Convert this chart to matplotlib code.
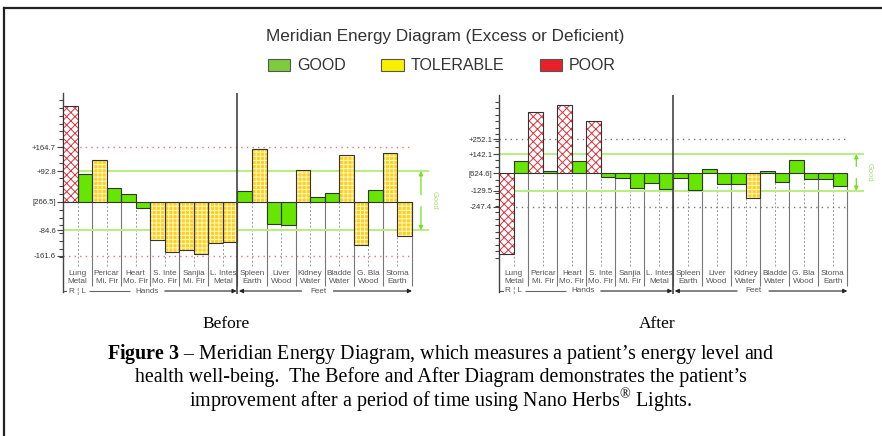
import numpy as np
import matplotlib.pyplot as plt
from matplotlib.patches import Patch
from matplotlib.lines import Line2D

plt.rcParams['font.family'] = ['Liberation Sans', 'DejaVu Sans']
plt.rcParams['hatch.linewidth'] = 0.7
plt.rcParams['mathtext.fontset'] = 'custom'
plt.rcParams['mathtext.rm'] = 'Liberation Serif'
plt.rcParams['mathtext.bf'] = 'Liberation Serif:bold'

# meridian columns, each with a right and a left reading
meridians = ["Lung\nMetal", "Pericar\nMi. Fir", "Heart\nMo. Fir", "S. Inte\nMo. Fir",
             "Sanjia\nMi. Fir", "L. Intes\nMetal", "Spleen\nEarth", "Liver\nWood",
             "Kidney\nWater", "Bladde\nWater", "G. Bla\nWood", "Stoma\nEarth"]

# before: deviation from the mean (266.5)
before_right = [287, 126, 24, -115, -144, -123, 33, -66, 96, 27, -129, 147]
before_left = [84, 41, -18, -150, -156, -121, 159, -68, 14, 140, 36, -103]
before_mean = "[266.5]"
before_good = (-84.6, 92.8)
before_poor = (-161.6, 164.7)

# after: deviation from the mean (624.6)
after_right = [-599, 456, 503, 387, -37, -74, -37, 32, -76, 15, 96, -44]
after_left = [91, 15, 91, -27, -111, -118, -126, -81, -180, -67, -39, -91]
after_mean = "[624.6]"
after_good = (-129.5, 142.1)
after_poor = (-247.4, 252.1)

W, H = 882, 436
fig = plt.figure(figsize=(W / 100, H / 100), dpi=100)

styles = {
    "good": dict(color="#66e600"),
    "tol": dict(color="#ffd21a", edgecolor="#fff6cc", hatch="++++"),
    "poor": dict(color="white", edgecolor="#e0303a", hatch="xxxx"),
}


def grade(v, good, poor):
    if good[0] <= v <= good[1]:
        return "good"
    if poor[0] <= v <= poor[1]:
        return "tol"
    return "poor"


def panel(left_px, base_px, colw, scale, right, left, mean_lbl, good, poor,
          poor_col, minor_step, top_axis):
    top_px, bot_px = 88, 300
    right_px = left_px + colw * 12 + 30
    ax = fig.add_axes([left_px / W, 1 - bot_px / H,
                       (right_px - left_px) / W, (bot_px - top_px) / H])
    ax.set_xlim(0, (right_px - left_px) / colw)
    ax.set_ylim(-(bot_px - base_px) * scale, (base_px - top_px) * scale)

    def yd(p):
        return (base_px - p) * scale

    def xc(p):
        return (p - left_px) / colw

    n = len(meridians)
    end = xc(left_px + colw * n)

    # bars
    for off, vals in [(0.0, right), (0.5, left)]:
        vals = np.array(vals)
        x = np.arange(n) + off
        cats = np.array([grade(v, good, poor) for v in vals])
        for c, st in styles.items():
            m = cats == c
            if m.any():
                ax.bar(x[m], vals[m], width=0.5, align="edge", linewidth=0,
                       zorder=3, **st)
        ax.bar(x, vals, width=0.5, align="edge", fill=False,
               edgecolor="#333333", linewidth=0.8, zorder=4)

    # guide lines
    ax.hlines(good, 0, end + 17 / colw, colors="#b8ee80", lw=1.4, zorder=2)
    ax.hlines(poor, 0, end, colors=poor_col, linestyles=(0, (1, 3)), lw=1.0,
              zorder=2)

    # column separators and centre dashes
    ax.vlines(np.arange(1, n + 1), yd(286), 0, colors="#777777", lw=0.8, zorder=1)
    ax.vlines(np.arange(n) + 0.5, yd(266), 0, colors="#9a9a9a",
              linestyles=(0, (2, 2)), lw=0.7, zorder=1)
    ax.vlines(6, yd(294), yd(top_axis), colors="#444444", lw=1.2, zorder=5)

    # axis
    for s in ["top", "right", "bottom"]:
        ax.spines[s].set_visible(False)
    ax.spines["left"].set_bounds(yd(292), yd(top_axis))
    ax.spines["left"].set_color("#444444")
    ax.spines["left"].set_linewidth(1.0)
    ax.set_xticks([])
    ax.set_yticks([poor[1], good[1], 0, good[0], poor[0]],
                  labels=[f"+{poor[1]}", f"+{good[1]}", mean_lbl,
                          f"{good[0]}", f"{poor[0]}"])
    minor = np.concatenate([np.arange(0, yd(top_axis + 1), minor_step),
                            -np.arange(minor_step, -yd(262), minor_step)])
    ax.set_yticks(minor, minor=True)
    ax.tick_params(axis="y", which="major", length=4, width=0.8, color="#444444",
                   labelsize=5.6, labelcolor="#333333", pad=1)
    ax.tick_params(axis="y", which="minor", length=3, width=0.8, color="#444444")

    # meridian names
    for i, lbl in enumerate(meridians):
        ax.text(i + 0.5, yd(277.5), lbl, ha="center", va="center", fontsize=5.9,
                color="#555555", linespacing=1.1)

    # hands / feet row
    yr = yd(291)
    ax.plot([0, 0.12], [yr, yr], color="#555555", lw=0.8)
    ax.text(0.5, yr, "R \u00a6 L", ha="center", va="center", fontsize=5.9,
            color="#555555")
    ax.hlines(yr, 0.9, 2.3, colors="#666666", lw=0.8)
    ax.text(2.9, yr, "Hands", ha="center", va="center", fontsize=5.9,
            color="#555555")
    arr = dict(arrowstyle="-|>", color="#222222", lw=0.8, mutation_scale=6,
               shrinkA=0, shrinkB=0)
    ax.annotate("", xy=(5.97, yr), xytext=(3.5, yr), arrowprops=arr)
    ax.annotate("", xy=(6.05, yr), xytext=(8.2, yr), arrowprops=arr)
    ax.text(8.78, yr, "Feet", ha="center", va="center", fontsize=5.9,
            color="#555555")
    ax.annotate("", xy=(12.0, yr), xytext=(9.3, yr), arrowprops=arr)

    # good range marker
    gx = end + 9 / colw
    mid = (good[0] + good[1]) / 2
    garr = dict(arrowstyle="-|>", color="#77dd22", lw=0.9, mutation_scale=6,
                shrinkA=0, shrinkB=0)
    ax.annotate("", xy=(gx, good[1]), xytext=(gx, mid + 6 * scale), arrowprops=garr)
    ax.annotate("", xy=(gx, good[0]), xytext=(gx, mid - 6 * scale), arrowprops=garr)
    ax.text(end + 22 / colw, mid, "Good", rotation=270, ha="center", va="center",
            fontsize=5.4, color="#a8e070")
    return ax


panel(63, 202, 29.08, 3.0, before_right, before_left, before_mean,
      before_good, before_poor, "#d07f86", 23.5, 93)
panel(499.3, 173.3, 29.0, 7.4, after_right, after_left, after_mean,
      after_good, after_poor, "#777777", 48, 95)

# title and legend
fig.text(445 / W, 1 - 36 / H, "Meridian Energy Diagram (Excess or Deficient)",
         ha="center", va="center", fontsize=12.3, color="#333333")
handles = [Patch(facecolor="#7dcc3c", edgecolor="#555555", lw=0.8),
           Patch(facecolor="#f8f000", edgecolor="#555555", lw=0.8),
           Patch(facecolor="#e8202a", edgecolor="#555555", lw=0.8)]
fig.legend(handles, ["GOOD", "TOLERABLE", "POOR"], ncol=3, loc="center",
           bbox_to_anchor=(442 / W, 1 - 66 / H), frameon=False, fontsize=11.5,
           handlelength=1.4, handleheight=0.75, handletextpad=0.45,
           columnspacing=2.2, labelcolor="#333333")

# captions
serif = ["Liberation Serif", "DejaVu Serif"]
fig.text(226 / W, 1 - 324 / H, "Before", family=serif, fontsize=12.5,
         ha="center", va="center")
fig.text(657 / W, 1 - 324 / H, "After", family=serif, fontsize=12.5,
         ha="center", va="center")
cap = ["$\\mathbf{Figure}$ $\\mathbf{3}$ \u2013 Meridian Energy Diagram, which measures a patient\u2019s energy level and",
       "health well-being.  The Before and After Diagram demonstrates the patient\u2019s",
       "improvement after a period of time using Nano Herbs$^{\\mathrm{\u00ae}}$ Lights."]
for k, line in enumerate(cap):
    fig.text(441 / W, 1 - (354 + 23.3 * k) / H, line, family=serif,
             fontsize=14.4, ha="center", va="center")

# frame
fig.add_artist(Line2D([4 / W, 4 / W], [0, 1 - 8 / H], color="#222222", lw=1.6))
fig.add_artist(Line2D([4 / W, 1], [1 - 8 / H, 1 - 8 / H], color="#222222", lw=1.6))

fig.savefig("out.png", dpi=100)
